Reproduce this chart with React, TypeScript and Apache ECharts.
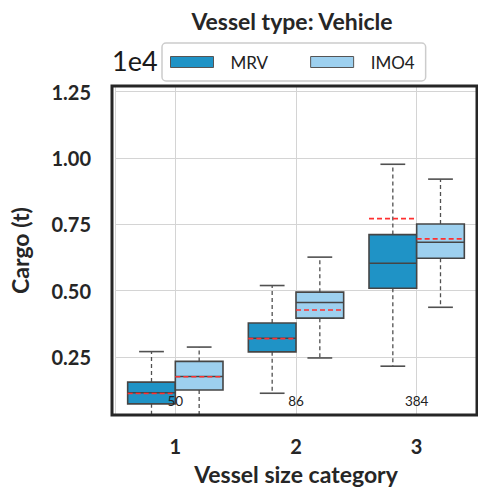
import React, { useEffect, useRef } from "react";
import * as echarts from "echarts";

const categories = [1, 2, 3];
const counts = [50, 86, 384];

// MRV box statistics (t)
const mrvLower = [0, 1130, 2150];
const mrvQ1 = [730, 2690, 5090];
const mrvMedian = [1150, 3200, 6030];
const mrvQ3 = [1550, 3780, 7110];
const mrvUpper = [2700, 5190, 9760];
const mrvMean = [1120, 3190, 7710];

// IMO4 box statistics (t)
const imoLower = [0, 2460, 4370];
const imoQ1 = [1250, 3960, 6220];
const imoMedian = [1760, 4550, 6820];
const imoQ3 = [2330, 4940, 7510];
const imoUpper = [2870, 6260, 9200];
const imoMean = [1750, 4270, 6950];

const yTickStep = 2500;
const FONT = "Lato";
const MRV_COLOR = "#1f93c6";
const IMO_COLOR = "#9dd0ef";

const GRID = { left: 112, top: 86, width: 365, height: 329 };

function buildRows(lo: number[], q1: number[], med: number[], q3: number[], hi: number[], mean: number[]) {
  return categories.map((c, i) => [c, lo[i], q1[i], med[i], q3[i], hi[i], mean[i]]);
}

function makeBoxRender(side: number, fill: string) {
  return (params: any, api: any) => {
    const x = api.value(0);
    const lo = api.value(1);
    const q1 = api.value(2);
    const med = api.value(3);
    const q3 = api.value(4);
    const hi = api.value(5);
    const mean = api.value(6);
    const c = api.coord([x, q1]);
    const unit = api.size([1, 0])[0];
    const bw = unit * 0.395;
    const x0 = side < 0 ? c[0] - bw : c[0];
    const x1 = x0 + bw;
    const xc = (x0 + x1) / 2;
    const y = (v: number) => api.coord([x, v])[1];
    const yLo = y(lo), yQ1 = y(q1), yMed = y(med), yQ3 = y(q3), yHi = y(hi), yMean = y(mean);
    const capW = bw * 0.26;
    const grey = "#505050";
    return {
      type: "group",
      children: [
        { type: "line", shape: { x1: xc, y1: yQ1, x2: xc, y2: yLo }, style: { stroke: grey, lineWidth: 1.3, lineDash: [4, 3] } },
        { type: "line", shape: { x1: xc, y1: yQ3, x2: xc, y2: yHi }, style: { stroke: grey, lineWidth: 1.3, lineDash: [4, 3] } },
        { type: "line", shape: { x1: xc - capW, y1: yLo, x2: xc + capW, y2: yLo }, style: { stroke: grey, lineWidth: 1.6 } },
        { type: "line", shape: { x1: xc - capW, y1: yHi, x2: xc + capW, y2: yHi }, style: { stroke: grey, lineWidth: 1.6 } },
        { type: "rect", shape: { x: x0, y: yQ3, width: bw, height: yQ1 - yQ3 }, style: { fill, stroke: "#454545", lineWidth: 1.6 } },
        { type: "line", shape: { x1: x0, y1: yMed, x2: x1, y2: yMed }, style: { stroke: "#454545", lineWidth: 1.6 } },
        { type: "line", shape: { x1: x0, y1: yMean, x2: x1, y2: yMean }, style: { stroke: "#ff3030", lineWidth: 1.6, lineDash: [5, 3] } },
      ],
    };
  };
}

export default function App() {
  const ref = useRef<HTMLDivElement>(null);
  useEffect(() => {
    if (!ref.current) return;
    const chart = echarts.init(ref.current, null, { renderer: "svg" });
    const countLabelValue = 840;
    chart.setOption({
      animation: false,
      backgroundColor: "#ffffff",
      grid: {
        left: GRID.left,
        top: GRID.top,
        width: GRID.width,
        height: GRID.height,
        show: true,
        borderWidth: 0,
        backgroundColor: "#ffffff",
      },
      legend: {
        data: [
          { name: "MRV", icon: "rect", itemStyle: { color: MRV_COLOR, borderColor: "#555", borderWidth: 1 } },
          { name: "IMO4", icon: "rect", itemStyle: { color: IMO_COLOR, borderColor: "#555", borderWidth: 1 } },
        ],
        left: 162,
        top: 43,
        orient: "horizontal",
        itemWidth: 43,
        itemHeight: 11,
        itemGap: 42,
        padding: [9, 11, 9, 8],
        borderColor: "#cccccc",
        borderWidth: 1.5,
        borderRadius: 4,
        backgroundColor: "#ffffff",
        textStyle: { fontFamily: FONT, fontSize: 17, color: "#222", padding: [0, 0, 0, 12], lineHeight: 20 },
      },
      xAxis: {
        type: "value",
        min: 0.5,
        max: 3.5,
        minInterval: 1,
        maxInterval: 1,
        name: "Vessel size category",
        nameLocation: "middle",
        nameGap: 47,
        nameTextStyle: { fontFamily: FONT, fontSize: 23, fontWeight: "bold", color: "#262626" },
        axisLine: { show: false },
        axisTick: { show: false },
        axisLabel: {
          showMinLabel: false,
          showMaxLabel: false,
          margin: 21,
          fontFamily: FONT,
          fontSize: 20,
          fontWeight: "bold",
          color: "#262626",
          formatter: (v: number) => String(v),
        },
        splitLine: { show: true, lineStyle: { color: "#d4d4d4", width: 1 } },
      },
      yAxis: {
        type: "value",
        min: 310,
        max: 12710,
        minInterval: yTickStep,
        maxInterval: yTickStep,
        name: "Cargo (t)",
        nameLocation: "middle",
        nameGap: 84,
        nameTextStyle: { fontFamily: FONT, fontSize: 23, fontWeight: "bold", color: "#262626" },
        axisLine: { show: false },
        axisTick: { show: false },
        axisLabel: {
          showMinLabel: false,
          showMaxLabel: false,
          margin: 24,
          fontFamily: FONT,
          fontSize: 20,
          fontWeight: "bold",
          color: "#262626",
          formatter: (v: number) => (v / 1e4).toFixed(2),
        },
        splitLine: { show: true, lineStyle: { color: "#d4d4d4", width: 1 } },
      },
      graphic: [
        {
          type: "text",
          x: 292,
          y: 9,
          style: { text: "Vessel type: Vehicle", font: "bold 23px Lato", fill: "#262626", align: "center" },
        },
        {
          type: "text",
          x: 112,
          y: 47,
          style: { text: "1e4", font: "27px Lato", fill: "#1a1a1a" },
        },
        {
          type: "rect",
          z: 100,
          silent: true,
          shape: { x: GRID.left, y: GRID.top, width: GRID.width, height: GRID.height },
          style: { fill: "none", stroke: "#262626", lineWidth: 3 },
        },
      ],
      series: [
        {
          name: "MRV",
          type: "custom",
          clip: true,
          itemStyle: { color: MRV_COLOR },
          encode: { x: 0, y: [1, 2, 3, 4, 5] },
          data: buildRows(mrvLower, mrvQ1, mrvMedian, mrvQ3, mrvUpper, mrvMean),
          renderItem: makeBoxRender(-1, MRV_COLOR),
        },
        {
          name: "IMO4",
          type: "custom",
          clip: true,
          itemStyle: { color: IMO_COLOR },
          encode: { x: 0, y: [1, 2, 3, 4, 5] },
          data: buildRows(imoLower, imoQ1, imoMedian, imoQ3, imoUpper, imoMean),
          renderItem: makeBoxRender(1, IMO_COLOR),
        },
        {
          name: "counts",
          type: "custom",
          z: 10,
          encode: { x: 0 },
          data: categories.map((c, i) => [c, counts[i]]),
          renderItem: (params: any, api: any) => {
            const p = api.coord([api.value(0), countLabelValue]);
            return {
              type: "text",
              style: {
                text: String(api.value(1)),
                x: p[0],
                y: p[1],
                align: "center",
                verticalAlign: "middle",
                fontFamily: FONT,
                fontSize: 13.5,
                fill: "#222",
              },
            };
          },
        },
      ],
    });
    return () => chart.dispose();
  }, []);
  return <div ref={ref} style={{ position: "fixed", left: 0, top: 0, width: 478, height: 495 }} />;
}
